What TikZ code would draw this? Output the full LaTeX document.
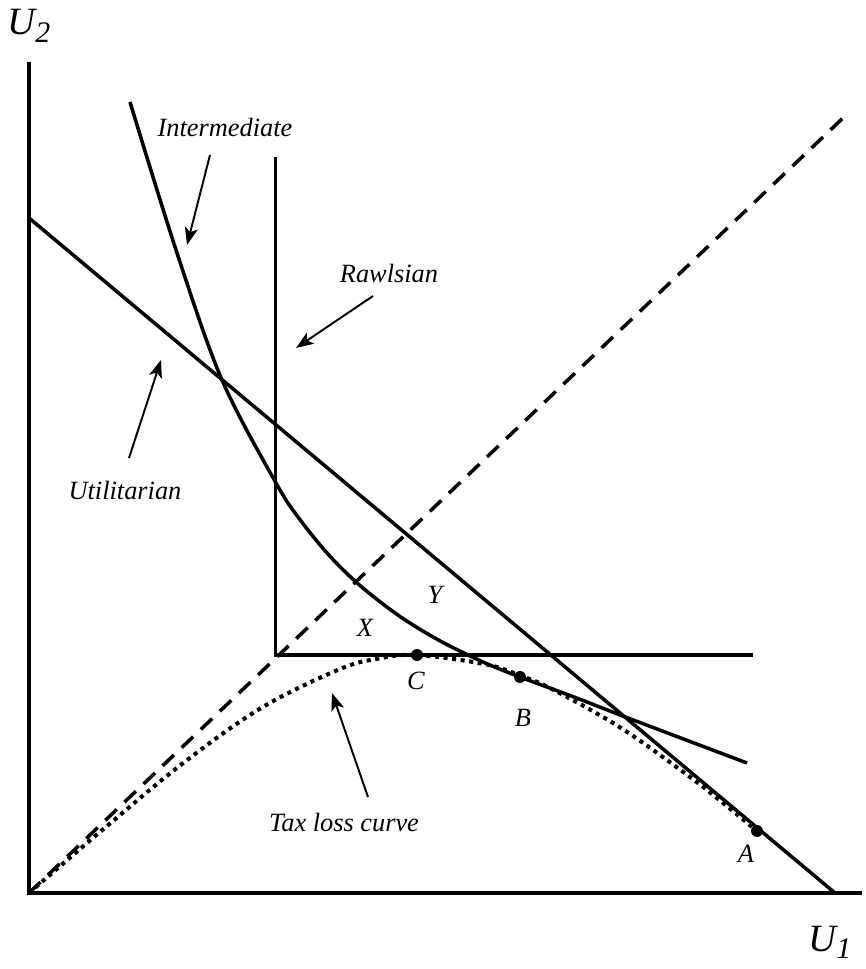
\documentclass[tikz,border=0pt]{standalone}
\usepackage{fontspec}
\setmainfont{Liberation Serif}
\usetikzlibrary{arrows.meta, positioning, calc}

% axis label: big italic letter with a lowered index
\newcommand{\axislab}[2]{{\fontsize{22}{26}\selectfont #1\raisebox{-0.2em}{\fontsize{17}{20}\selectfont #2}}}

\begin{document}
\begin{tikzpicture}[
    x=0.02cm, y=0.02cm,
    >={Stealth[length=10pt, width=7.5pt, inset=2.5pt]},
    font=\itshape\fontsize{15}{18}\selectfont,
    % Define styles for the different line types
    axis/.style={line width=2.4pt},
    curve/.style={line width=2pt},
    guide/.style={line width=2pt, dash pattern=on 9pt off 6pt},
    taxloss/.style={line width=2.3pt, dash pattern=on 2.3pt off 2.6pt},
    pointer/.style={->, line width=1.1pt},
    lbl/.style={anchor=base, inner sep=0pt},
    dot/.style={circle, fill=black, inner sep=0pt, minimum size=6.8pt},
]
\useasboundingbox (-29,-76) rectangle (836,893);

% -------------------------
% Axes and guide lines
% -------------------------
\coordinate (origin) at (0,0);
\coordinate (ytop) at (0,831);
\coordinate (xend) at (833,0);
\draw[axis] (ytop) -- (origin) -- (xend);

\node[anchor=base west, inner sep=0pt] (u2) at (-22,858) {\axislab{U}{2}};
\node[anchor=base west, inner sep=0pt] (u1) at (779,-58) {\axislab{U}{1}};

% 45 degree line
\coordinate (diagend) at (814,775);
\draw[guide] (origin) -- (diagend);

% -------------------------
% Social welfare contours
% -------------------------
% Utilitarian
\coordinate (utilstart) at (0,675);
\coordinate (utilend) at (806,0);
\draw[curve] (utilstart) -- (utilend);

% Rawlsian
\coordinate (rawlstop) at (246.5,736);
\coordinate (rawlscorner) at (246.5,238);
\coordinate (rawlsend) at (724,238);
\draw[curve] (rawlstop) -- (rawlscorner) -- (rawlsend);

% Intermediate
\draw[curve] plot[smooth, tension=0.55] coordinates {
    (101,791) (148,640) (193,513) (247,410) (270,374.7) (300,337.8)
    (331,307.5) (370,277.2) (410,252.7) (454,231) (491,216) (545,196)
    (599,175) (718,130)};

% Tax loss curve
\draw[taxloss] plot[smooth, tension=0.6] coordinates {
    (0,0) (77.6,66.6) (155.2,130.7) (232.8,185.4) (310.4,223.7) (349,234.3)
    (388,238) (456,228.8) (491,217.5) (524,203.4) (592,165) (660,116.7)
    (694,90) (728,62)};

% Tangency points
\node[dot] (ptC) at (388,238) {};
\node[dot] (ptB) at (491,216) {};
\node[dot] (ptA) at (728,62) {};

\node[lbl] (labC) at (387,203) {C};
\node[lbl] (labB) at (494,166) {B};
\node[lbl] (labA) at (717,31) {A};
\node[lbl] (labX) at (336,256) {X};
\node[lbl] (labY) at (406,289) {Y};

% -------------------------
% Labels and pointers
% -------------------------
\node[lbl] (intlab) at (196,756) {Intermediate};
\coordinate (intfrom) at (181,738);
\coordinate (intto) at (158,648);
\draw[pointer] (intfrom) -- (intto);

\node[lbl] (rawlab) at (360,610) {Rawlsian};
\coordinate (rawfrom) at (344,597);
\coordinate (rawto) at (267,545);
\draw[pointer] (rawfrom) -- (rawto);

\node[lbl] (utillab) at (96,393) {Utilitarian};
\coordinate (utilfrom) at (100,435);
\coordinate (utilto) at (132,533);
\draw[pointer] (utilfrom) -- (utilto);

\node[lbl] (taxlab) at (315,61) {Tax loss curve};
\coordinate (taxfrom) at (339,96);
\coordinate (taxto) at (303,200);
\draw[pointer] (taxfrom) -- (taxto);

\end{tikzpicture}
\end{document}
